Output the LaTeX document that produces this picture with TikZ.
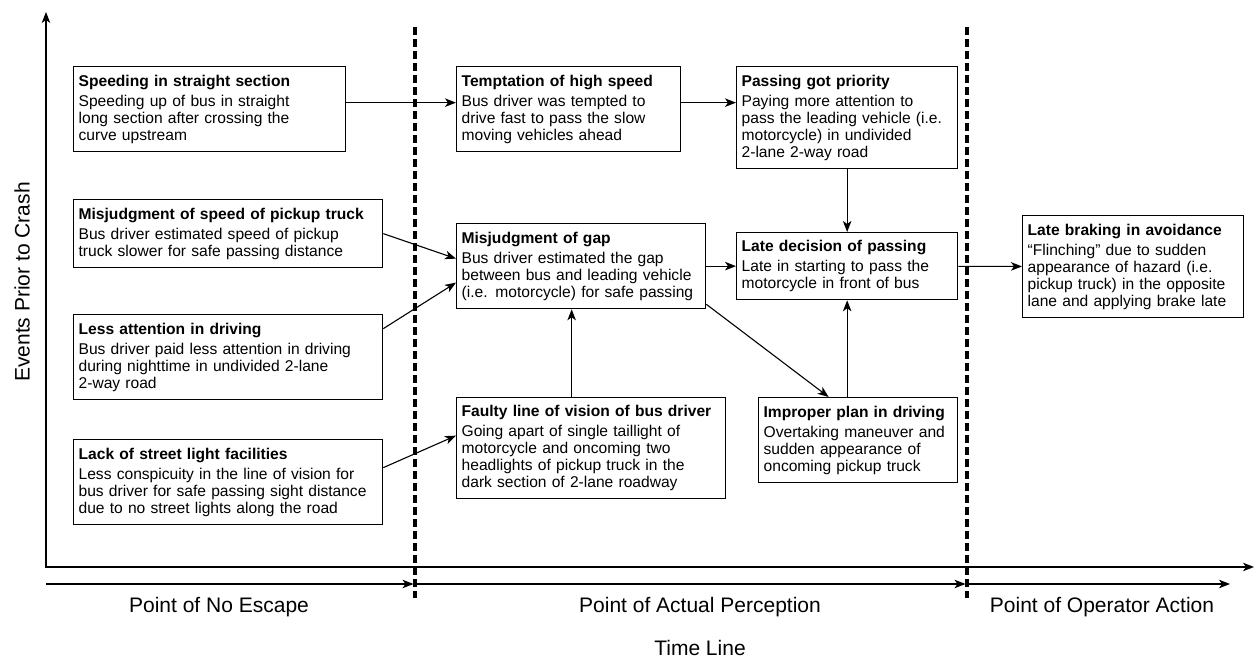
\documentclass[tikz,border=0pt]{standalone}
\usepackage{fontspec}
\setmainfont{Liberation Sans}
\usetikzlibrary{arrows.meta}

\newcommand{\evfont}{\fontsize{15.6}{17}\selectfont\hyphenpenalty=10000}
\newcommand{\axfont}{\fontsize{21}{25}\selectfont}

\begin{document}
\begin{tikzpicture}[%
        x=1pt, y=1pt,
        event/.style={
            % the shape:
            rectangle,
            anchor=north west,
            % the rest:
            draw=black,
            line width=1.3pt,
            fill=white,
            inner xsep=5pt,
            inner ysep=3pt,
            align=left,
            font=\evfont,
        },
        phase/.style={
            line width=3.5pt,
            dash pattern=on 8pt off 4pt,
        },
        axislabel/.style={
            font=\axfont,
        },
        >={Stealth[length=11pt,width=8.5pt,inset=3pt]}, line width=1.1pt
    ]

    \useasboundingbox (0,0) rectangle (1255,660);

    % axes
    \coordinate (origin) at (46,93);
    \coordinate (ytop) at (46,648);
    \coordinate (xend) at (1254,93);
    \draw[<->] (ytop) -- (origin) -- (xend);

    % phase borders
    \coordinate (d1top) at (415,633);
    \coordinate (d1bot) at (415,62);
    \coordinate (d2top) at (967,633);
    \coordinate (d2bot) at (967,62);
    \draw[phase] (d1top) -- (d1bot);
    \draw[phase] (d2top) -- (d2bot);

    % time line
    \coordinate (t0) at (46,76);
    \coordinate (t3) at (1230,76);
    \draw[->] (t0) -- ([xshift=-1.5pt]d1bot |- t0);
    \draw[->] (d1bot |- t0) -- ([xshift=-1.5pt]d2bot |- t0);
    \draw[->] (d2bot |- t0) -- (t3);

    \node[axislabel] (noescape) at (219,53) {Point of No Escape};
    \node[axislabel] (perception) at (700,53) {Point of Actual Perception};
    \node[axislabel] (action) at (1102,53) {Point of Operator Action};
    \node[axislabel] (timeline) at (700,12) {Time Line};
    \node[axislabel, rotate=90] (events) at (22,378) {Events Prior to Crash};

    % events
    \node[event, text width=262pt, minimum height=85pt] (speed) at (73,594)
        {\textbf{Speeding in straight section}\\[3pt]
         Speeding up of bus in straight\\
         long section after crossing the\\
         curve upstream};
    \node[event, text width=299pt, minimum height=68pt] (mjspeed) at (73,461)
        {\textbf{Misjudgment of speed of pickup truck}\\[3pt]
         Bus driver estimated speed of pickup\\
         truck slower for safe passing distance};
    \node[event, text width=299pt, minimum height=85pt] (less) at (73,346)
        {\textbf{Less attention in driving}\\[3pt]
         Bus driver paid less attention in driving\\
         during nighttime in undivided 2-lane\\
         2-way road};
    \node[event, text width=299pt, minimum height=85pt] (lack) at (73,221)
        {\textbf{Lack of street light facilities}\\[3pt]
         Less conspicuity in the line of vision for\\
         bus driver for safe passing sight distance\\
         due to no street lights along the road};
    \node[event, text width=214pt, minimum height=85pt] (tempt) at (456,594)
        {\textbf{Temptation of high speed}\\[3pt]
         Bus driver was tempted to\\
         drive fast to pass the slow\\
         moving vehicles ahead};
    \node[event, text width=239pt, minimum height=85pt] (gap) at (456,437)
        {\textbf{Misjudgment of gap}\\[3pt]
         Bus driver estimated the gap\\
         between bus and leading vehicle\\
         (i.e. motorcycle) for safe passing};
    \node[event, text width=259pt, minimum height=101pt] (faulty) at (456,263)
        {\textbf{Faulty line of vision of bus driver}\\[3pt]
         Going apart of single taillight of\\
         motorcycle and oncoming two\\
         headlights of pickup truck in the\\
         dark section of 2-lane roadway};
    \node[event, text width=211pt, minimum height=102pt] (prio) at (736,594)
        {\textbf{Passing got priority}\\[3pt]
         Paying more attention to\\
         pass the leading vehicle (i.e.\\
         motorcycle) in undivided\\
         2-lane 2-way road};
    \node[event, text width=211pt, minimum height=67pt] (late) at (736,428)
        {\textbf{Late decision of passing}\\[3pt]
         Late in starting to pass the\\
         motorcycle in front of bus};
    \node[event, text width=189pt, minimum height=85pt] (improper) at (758,263)
        {\textbf{Improper plan in driving}\\[3pt]
         Overtaking maneuver and\\
         sudden appearance of\\
         oncoming pickup truck};
    \node[event, text width=211pt, minimum height=102pt] (brake) at (1022,445)
        {\textbf{Late braking in avoidance}\\[3pt]
         “Flinching” due to sudden\\
         appearance of hazard (i.e.\\
         pickup truck) in the opposite\\
         lane and applying brake late};

    % links
    \draw[->] ([yshift=6.5pt]speed.east) -- ([yshift=6.5pt]speed.east -| tempt.west);
    \draw[->] ([yshift=6.5pt]tempt.east) -- ([yshift=6.5pt]tempt.east -| prio.west);
    \draw[->] (prio) -- (late);
    \draw[->] (mjspeed.east) -- ([yshift=7.5pt]gap.west);
    \draw[->] ([yshift=28.5pt]less.east) -- ([yshift=-16.5pt]gap.west);
    \draw[->] ([yshift=14.5pt]lack.east) -- ([yshift=12.5pt]faulty.west);
    \draw[->] ([xshift=-19.5pt]faulty.north) -- ([xshift=-19.5pt]faulty.north |- gap.south);
    \draw[->] (gap) -- (late);
    \draw[->] ([yshift=5pt]gap.south east) -- ([xshift=-29.5pt]improper.north);
    \draw[->] (improper.north -| late.south) -- (late.south);
    \draw[->] (late) -- (brake);

\end{tikzpicture}
\end{document}
